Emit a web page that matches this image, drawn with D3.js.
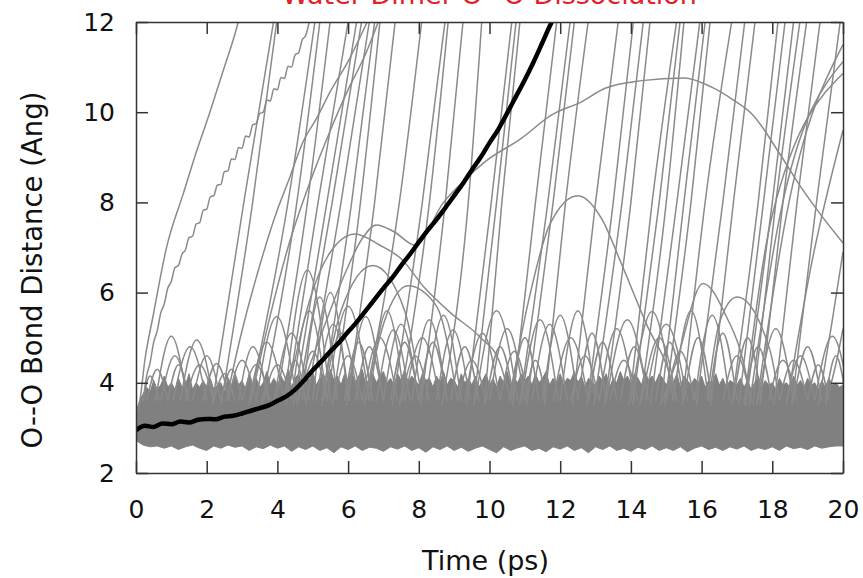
<!DOCTYPE html>
<html>
<head>
<meta charset="utf-8">
<script src="https://cdn.jsdelivr.net/npm/d3@7"></script>
<style>
body { margin: 0; background: #fff; }
</style>
</head>
<body>
<div id="chart"></div>
<script>
const titleText = 'Water Dimer O--O Dissociation'
const xLabel = 'Time (ps)'
const yLabel = 'O--O Bond Distance (Ang)'
const xTicks = [0, 2, 4, 6, 8, 10, 12, 14, 16, 18, 20]
const yTicks = [2, 4, 6, 8, 10, 12]

// tracked pair (black), time in ps / distance in Ang
const blackTime = [0, 0.25, 0.5, 0.75, 1, 1.25, 1.5, 1.75, 2, 2.25, 2.5, 2.75, 3, 3.25, 3.5, 3.75, 4, 4.25, 4.5, 4.75,
  5, 5.25, 5.5, 5.75, 6, 6.25, 6.5, 6.75, 7, 7.25, 7.5, 7.75, 8, 8.25, 8.5, 8.75, 9, 9.25, 9.5, 9.75,
  10, 10.25, 10.5, 10.75, 11, 11.25, 11.5, 11.75, 11.8]
const blackDist = [2.95, 3.05, 3.02, 3.1, 3.08, 3.14, 3.12, 3.18, 3.2, 3.19, 3.25, 3.27, 3.32, 3.38, 3.44, 3.5, 3.6, 3.7, 3.85, 4.05,
  4.28, 4.48, 4.7, 4.9, 5.13, 5.35, 5.6, 5.85, 6.1, 6.33, 6.6, 6.85, 7.12, 7.38, 7.62, 7.88, 8.15, 8.42, 8.72, 9.0,
  9.32, 9.62, 9.98, 10.35, 10.72, 11.12, 11.55, 11.98, 12.05]

// edges of the dense bound band: top every 0.1 ps, bottom every 0.2 ps
const bandTopStep = 0.1
const bandTop = [
  3.35, 3.6, 3.75, 3.9, 3.8, 4.05, 3.85, 3.95, 4.15, 3.9,
  4.0, 3.85, 4.1, 3.9, 3.95, 4.2, 3.85, 4.0, 3.9, 4.05,
  3.9, 4.1, 3.85, 3.95, 4.0, 3.8, 4.1, 3.9, 4.15, 3.95,
  4.05, 3.85, 4.2, 3.95, 4.1, 3.9, 4.0, 4.25, 3.95, 4.1,
  3.95, 4.15, 4.0, 4.3, 3.9, 4.1, 4.2, 3.95, 4.15, 4.05,
  4.25, 3.95, 4.1, 4.2, 4.0, 4.3, 4.05, 4.15, 3.95, 4.2,
  4.05, 4.25, 4.0, 4.15, 4.3, 3.95, 4.1, 4.2, 4.0, 4.15,
  4.25, 4.0, 4.1, 3.95, 4.2, 4.05, 4.3, 4.0, 4.15, 4.05,
  3.95, 4.2, 4.05, 4.1, 3.9, 4.15, 4.0, 4.25, 3.95, 4.1,
  4.05, 3.9, 4.2, 4.0, 4.1, 3.95, 4.15, 3.9, 4.05, 4.2,
  3.95, 4.1, 3.9, 4.15, 4.0, 4.25, 3.95, 4.1, 4.0, 4.2,
  4.05, 4.15, 3.95, 4.2, 4.0, 4.1, 4.25, 3.95, 4.1, 4.0,
  4.2, 3.95, 4.1, 4.05, 4.25, 4.0, 4.15, 3.9, 4.1, 4.0,
  3.95, 4.15, 4.05, 4.2, 3.9, 4.1, 4.0, 4.25, 4.05, 4.15,
  4.0, 4.2, 4.1, 3.95, 4.25, 4.05, 4.15, 4.0, 4.2, 4.1,
  3.95, 4.1, 4.0, 4.2, 3.9, 4.15, 4.05, 3.95, 4.1, 4.0,
  4.15, 3.9, 4.05, 4.0, 4.2, 3.95, 4.1, 3.9, 4.05, 4.0,
  3.95, 4.1, 3.9, 4.05, 3.85, 4.0, 4.15, 3.9, 4.05, 3.95,
  4.0, 3.85, 4.1, 3.95, 4.0, 3.9, 4.15, 3.95, 4.05, 3.9,
  4.1, 3.95, 4.0, 3.85, 4.05, 3.9, 4.1, 3.95, 4.0, 3.9,
  3.95]
const bandBottomStep = 0.2
const bandBottom = [
  2.72, 2.62, 2.58, 2.6, 2.55, 2.6, 2.52, 2.58, 2.62, 2.55,
  2.5, 2.6, 2.55, 2.62, 2.57, 2.6, 2.5, 2.58, 2.54, 2.62,
  2.55, 2.6, 2.48, 2.58, 2.52, 2.6, 2.5, 2.56, 2.45, 2.58,
  2.52, 2.6, 2.5, 2.57, 2.55, 2.48, 2.58, 2.53, 2.6, 2.5,
  2.56, 2.46, 2.58, 2.52, 2.6, 2.5, 2.57, 2.48, 2.55, 2.6,
  2.52, 2.45, 2.58, 2.5, 2.56, 2.6, 2.5, 2.55, 2.47, 2.58,
  2.53, 2.6, 2.5, 2.56, 2.45, 2.58, 2.52, 2.6, 2.5, 2.55,
  2.48, 2.57, 2.52, 2.6, 2.5, 2.56, 2.5, 2.58, 2.47, 2.55,
  2.6, 2.52, 2.57, 2.5, 2.58, 2.53, 2.6, 2.5, 2.56, 2.52,
  2.58, 2.5, 2.6, 2.54, 2.57, 2.52, 2.6, 2.55, 2.58, 2.6,
  2.6]

// pairs that fly apart: time at 3.5, 8 and 12 Ang
const escapeLevels = [3.5, 8, 12]
const escapeTimes = [
  [2.15, 3.05, 3.89], [2.4, 3.3, 3.98], [3.2, 4.3, 5.06], [3.55, 4.55, 5.2],
  [3.95, 4.85, 5.49], [4.25, 5.15, 6.0], [4.45, 5.4, 6.24], [4.55, 5.55, 6.38],
  [4.8, 5.8, 6.6], [5.25, 6.1, 6.75], [5.55, 6.35, 6.9], [5.95, 6.75, 7.33],
  [6.45, 7.45, 8.08], [7.25, 8.1, 8.74], [7.45, 8.3, 8.83], [8.05, 8.75, 9.25],
  [8.65, 9.4, 9.78], [9.35, 10.05, 10.63], [9.55, 10.2, 10.75], [9.85, 10.35, 10.86],
  [10.65, 11.3, 11.9], [10.85, 11.65, 12.28], [11.05, 11.8, 12.4], [11.55, 12.15, 12.79],
  [12.35, 13.0, 13.64], [12.75, 13.5, 14.07], [12.95, 13.75, 14.35], [13.25, 14.0, 14.54],
  [13.95, 14.6, 15.29], [14.05, 14.8, 15.39], [14.25, 15.0, 15.5], [14.55, 15.3, 15.95],
  [14.85, 15.5, 16.1], [14.95, 15.7, 16.24], [15.45, 16.1, 16.85], [15.85, 16.6, 17.22],
  [16.25, 16.9, 17.51], [16.85, 17.6, 18.16], [17.05, 17.75, 18.36], [17.25, 18.0, 18.6],
  [17.45, 18.1, 18.78], [17.65, 18.3, 18.97], [18.05, 18.7, 19.35], [18.55, 19.25, 19.92]
]

// short excursions out of the band: start, peak time, peak distance, end
const hopBase = 3.6
const hops = [
  [0.2, 0.4, 4.15, 0.65], [0.3, 0.6, 4.3, 0.9], [0.55, 1.0, 5.03, 1.45], [0.9, 1.2, 4.4, 1.5],
  [1.05, 1.53, 4.8, 2.0], [1.25, 1.72, 4.95, 2.2], [1.6, 2.0, 4.6, 2.4], [1.9, 2.28, 4.43, 2.65],
  [2.2, 2.5, 4.2, 2.8], [2.4, 2.7, 4.3, 3.0], [2.9, 3.31, 4.8, 3.75], [3.0, 3.4, 4.4, 3.8],
  [3.4, 3.98, 5.47, 4.55], [3.6, 4.0, 4.4, 4.4], [4.2, 4.5, 4.5, 4.8], [4.2, 4.85, 6.5, 5.5],
  [4.6, 5.0, 4.7, 5.4], [4.7, 5.2, 5.9, 5.7], [5.1, 5.58, 5.3, 6.05], [5.3, 5.8, 5.1, 6.3],
  [5.6, 6.0, 4.6, 6.4], [6.0, 6.5, 5.47, 7.0], [6.2, 6.6, 4.8, 7.0], [6.4, 6.9, 5.0, 7.4],
  [6.8, 7.28, 5.17, 7.75], [7.2, 7.6, 4.9, 8.0], [7.5, 7.9, 4.6, 8.3], [7.8, 8.3, 5.4, 8.8],
  [8.0, 8.4, 4.9, 8.8], [8.5, 8.97, 5.17, 9.45], [8.9, 9.3, 4.8, 9.7], [9.1, 9.5, 4.5, 9.9],
  [9.6, 10.2, 5.6, 10.8], [10.0, 10.5, 5.2, 11.0], [10.3, 10.7, 4.7, 11.1], [10.9, 11.43, 5.4, 11.95],
  [11.0, 11.3, 4.5, 11.6], [11.5, 12.0, 5.5, 12.5], [11.8, 12.3, 5.0, 12.8], [12.3, 12.7, 4.6, 13.1],
  [12.8, 13.2, 4.9, 13.6], [13.1, 13.6, 5.2, 14.1], [13.4, 13.8, 4.5, 14.2], [13.7, 14.1, 4.8, 14.5],
  [14.0, 14.6, 5.58, 15.2], [14.3, 14.8, 5.0, 15.3], [15.0, 15.4, 4.7, 15.8], [15.5, 15.9, 5.0, 16.3],
  [15.8, 16.3, 5.5, 16.8], [16.6, 17.0, 4.6, 17.4], [16.9, 17.3, 5.0, 17.7], [17.9, 18.3, 4.5, 18.7],
  [18.4, 18.8, 4.6, 19.2], [18.6, 19.0, 4.8, 19.4], [19.0, 19.3, 4.4, 19.6], [19.2, 19.7, 5.03, 20.2],
  [0.7, 1.1, 4.6, 1.5], [1.4, 1.8, 4.4, 2.2], [2.6, 3.0, 4.5, 3.4], [3.2, 3.7, 4.9, 4.2],
  [3.9, 4.4, 5.1, 4.9], [4.4, 4.9, 5.6, 5.4], [5.0, 5.5, 6.0, 6.0], [5.4, 6.0, 5.7, 6.6],
  [5.9, 6.3, 4.9, 6.7], [6.6, 7.1, 5.6, 7.6], [7.0, 7.5, 5.3, 8.0], [7.6, 8.1, 5.0, 8.6],
  [8.2, 8.7, 5.5, 9.2], [9.3, 9.8, 5.1, 10.3], [9.9, 10.3, 4.8, 10.7], [10.6, 11.0, 5.0, 11.4],
  [11.2, 11.7, 5.3, 12.2], [12.0, 12.5, 5.6, 13.0], [12.5, 12.9, 5.1, 13.3], [13.3, 13.9, 5.4, 14.5],
  [14.4, 15.0, 5.3, 15.6], [14.7, 15.1, 4.9, 15.5], [15.2, 15.7, 5.6, 16.2], [16.2, 16.6, 5.1, 17.0],
  [17.2, 17.6, 4.8, 18.0], [17.6, 18.1, 5.2, 18.6], [18.2, 18.6, 4.5, 19.0], [19.5, 19.8, 4.6, 20.1]
]

// longer individual trajectories, [time, distance]
const trajA = [[0.03, 3.3], [0.11, 3.6], [0.25, 4.5], [0.48, 5.47], [0.87, 7.02], [1.34, 8.2], [1.7, 9.1],
  [2.09, 10.0], [2.5, 11.0], [2.89, 12.0], [2.95, 12.2]]
const trajB = [[0.2, 3.6], [0.3, 4.15], [0.4, 4.45], [0.5, 4.9], [0.6, 5.15], [0.7, 5.55], [0.8, 5.75], [0.9, 6.1],
  [1.0, 6.25], [1.1, 6.55], [1.2, 6.6], [1.3, 6.85], [1.4, 6.95], [1.5, 7.22], [1.6, 7.25], [1.7, 7.52],
  [1.8, 7.55], [1.9, 7.82], [2.0, 7.85], [2.1, 8.12], [2.2, 8.15], [2.3, 8.38], [2.4, 8.4], [2.5, 8.68],
  [2.6, 8.7], [2.7, 8.97], [2.8, 8.95], [2.9, 9.22], [3.0, 9.2], [3.1, 9.47], [3.2, 9.45], [3.3, 9.72],
  [3.4, 9.75], [3.5, 9.97], [3.6, 10.0], [3.7, 10.27], [3.8, 10.25], [3.9, 10.52], [4.0, 10.5], [4.1, 10.77],
  [4.2, 10.75], [4.3, 11.02], [4.4, 11.0], [4.5, 11.27], [4.6, 11.32], [4.7, 11.6], [4.8, 11.7], [4.9, 12.0]]
const trajD = [[2.55, 3.6], [2.95, 5.0], [3.5, 6.6], [3.98, 7.79], [4.3, 8.45], [4.73, 9.35], [5.1, 9.85],
  [5.49, 10.45], [6.05, 11.2], [6.3, 11.6], [6.6, 12.1]]
const trajE = [[3.25, 3.6], [3.8, 5.5], [4.3, 7.0], [4.9, 8.4], [5.5, 9.6], [6.0, 10.5], [6.5, 11.3], [6.9, 12.1]]
const trajBig = [[4.55, 3.6], [5.3, 5.2], [5.9, 6.4], [6.4, 7.2], [6.8, 7.5], [7.3, 7.35], [7.9, 7.05], [8.7, 8.0],
  [9.3, 8.5], [9.87, 8.9], [10.9, 9.42], [11.76, 9.94], [12.6, 10.23], [13.27, 10.53], [14.3, 10.7], [15.5, 10.76],
  [16.3, 10.55], [16.9, 10.27], [17.45, 9.94], [18.2, 9.09], [18.8, 8.35], [19.3, 7.8], [20, 7.1]]
const trajF = [[4.25, 3.6], [4.9, 5.8], [5.5, 6.9], [6.2, 7.3], [6.9, 7.05], [7.5, 6.75], [8.17, 6.1], [8.9, 5.55],
  [9.75, 5.0], [10.27, 4.49], [10.6, 3.6]]
const trajG = [[5.25, 3.6], [5.8, 5.6], [6.7, 6.6], [7.6, 5.6], [8.1, 3.6]]
const trajH = [[6.5, 3.6], [7.0, 5.3], [7.7, 6.15], [8.5, 5.7], [9.1, 3.6]]
const trajI = [[10.55, 3.6], [11.1, 5.8], [11.7, 7.5], [12.5, 8.15], [13.2, 7.6], [13.7, 6.7], [14.5, 5.2],
  [15.05, 4.3], [15.3, 3.6]]
const trajJ = [[14.9, 3.6], [15.3, 4.5], [16.04, 6.2], [16.7, 5.47], [17.17, 4.5], [17.4, 3.6]]
const trajK = [[16.15, 3.6], [16.5, 5.32], [17.0, 5.9], [17.93, 4.73], [18.2, 3.6]]
const trajEdge1 = [[17.2, 3.5], [18.0, 7.72], [20, 10.86]]
const trajEdge2 = [[17.35, 3.5], [18.22, 7.72], [20, 11.12]]
const trajEdge3 = [[17.55, 3.5], [18.4, 7.72], [20, 11.5]]
const trajEdge4 = [[18.4, 3.5], [19.1, 6.6], [20, 9.6]]
const trajEdge5 = [[19.3, 3.5], [19.7, 5.4], [20, 6.9]]
const trajEdge6 = [[19.5, 3.5], [19.85, 4.6], [20, 5.2]]
const longTrajs = [trajA, trajB, trajD, trajE, trajBig, trajF, trajG, trajH, trajI, trajJ, trajK,
  trajEdge1, trajEdge2, trajEdge3, trajEdge4, trajEdge5, trajEdge6]

const width = 863
const height = 578
const margin = {left: 136, top: 22, right: 20, bottom: 105}
const fontFamily = '"DejaVu Sans", Verdana, sans-serif'
const bandGray = '#808080'
const lineGray = '#8a8a8a'

var x = d3.scaleLinear().domain([0, 20]).range([margin.left, width - margin.right])
var y = d3.scaleLinear().domain([2, 12]).range([height - margin.bottom, margin.top])

var svg = d3.select('#chart').append('svg')
  .attr('width', width)
  .attr('height', height)
  .style('font-family', fontFamily)

svg.append('defs').append('clipPath').attr('id', 'plot-clip')
  .append('rect')
  .attr('x', x(0)).attr('y', y(12))
  .attr('width', x(20) - x(0)).attr('height', y(2) - y(12))

var plot = svg.append('g').attr('clip-path', 'url(#plot-clip)')

var line = d3.line().x(d => x(d[0])).y(d => y(d[1]))

// dense band of bound pairs
var bandPts = bandTop.map((v, i) => [i * bandTopStep, v])
  .concat(bandBottom.map((v, i) => [i * bandBottomStep, v]).reverse())
plot.append('path')
  .attr('d', line(bandPts) + 'Z')
  .attr('fill', bandGray)
  .attr('stroke', bandGray)
  .attr('stroke-width', 1)

var grayLines = plot.append('g')
  .attr('fill', 'none')
  .attr('stroke', lineGray)
  .attr('stroke-width', 1.5)
  .attr('stroke-linejoin', 'round')

var hopLine = d3.line().x(d => x(d[0])).y(d => y(d[1])).curve(d3.curveNatural)
grayLines.selectAll('.hop')
  .data(hops)
  .join('path')
  .attr('class', 'hop')
  .attr('d', h => hopLine([[h[0], hopBase], [h[1], h[2]], [h[3], hopBase]]))

var smoothLine = d3.line().x(d => x(d[0])).y(d => y(d[1])).curve(d3.curveMonotoneX)
grayLines.selectAll('.escape')
  .data(escapeTimes)
  .join('path')
  .attr('class', 'escape')
  .attr('d', ts => smoothLine(ts.map((t, i) => [t, escapeLevels[i]])))

grayLines.selectAll('.traj')
  .data(longTrajs)
  .join('path')
  .attr('class', 'traj')
  .attr('d', d => smoothLine(d))

plot.append('path')
  .datum(blackTime.map((t, i) => [t, blackDist[i]]))
  .attr('d', smoothLine)
  .attr('fill', 'none')
  .attr('stroke', '#000')
  .attr('stroke-width', 4.5)
  .attr('stroke-linejoin', 'round')
  .attr('stroke-linecap', 'round')

// axes with inward ticks on all four sides
function styleAxis(g)
{
  g.attr('font-family', fontFamily).attr('font-size', 25)
  g.select('.domain').attr('stroke', '#333').attr('stroke-width', 1.5)
  g.selectAll('.tick line').attr('stroke', '#333').attr('stroke-width', 1.5)
  g.selectAll('.tick text').attr('fill', '#111')
}

svg.append('g')
  .attr('transform', `translate(0,${y(2)})`)
  .call(d3.axisBottom(x).tickValues(xTicks).tickSizeInner(-12).tickSizeOuter(0).tickPadding(27))
  .call(styleAxis)
svg.append('g')
  .attr('transform', `translate(${x(0)},0)`)
  .call(d3.axisLeft(y).tickValues(yTicks).tickSizeInner(-12).tickSizeOuter(0).tickPadding(21))
  .call(styleAxis)
svg.append('g')
  .attr('transform', `translate(0,${y(12)})`)
  .call(d3.axisTop(x).tickValues(xTicks).tickSizeInner(-12).tickSizeOuter(0).tickFormat(''))
  .call(styleAxis)
svg.append('g')
  .attr('transform', `translate(${x(20)},0)`)
  .call(d3.axisRight(y).tickValues(yTicks).tickSizeInner(-12).tickSizeOuter(0).tickFormat(''))
  .call(styleAxis)

svg.append('text')
  .attr('x', (x(0) + x(20)) / 2 - 4)
  .attr('y', 570)
  .attr('text-anchor', 'middle')
  .attr('font-size', 27)
  .attr('fill', '#111')
  .text(xLabel)

svg.append('text')
  .attr('transform', 'translate(42,270) rotate(-90)')
  .attr('text-anchor', 'middle')
  .attr('font-size', 27.5)
  .attr('fill', '#111')
  .text(yLabel)

// title sits mostly above the page edge, as in the original export
svg.append('text')
  .attr('x', (x(0) + x(20)) / 2)
  .attr('y', 4)
  .attr('text-anchor', 'middle')
  .attr('font-size', 27)
  .attr('fill', '#e3202a')
  .text(titleText)
</script>
</body>
</html>
